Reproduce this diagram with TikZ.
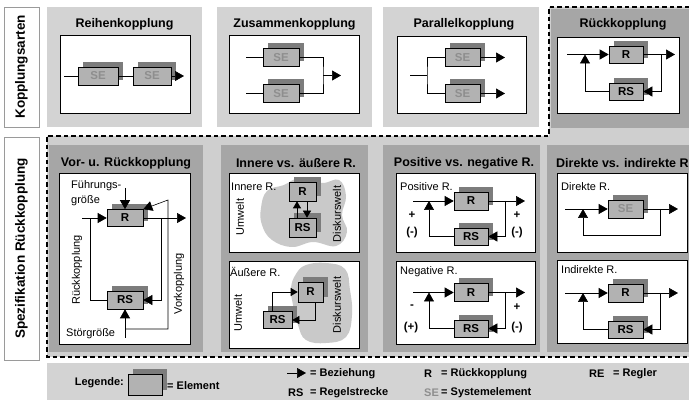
\documentclass[tikz,border=0pt]{standalone}
\usepackage{fontspec}
\setmainfont{Liberation Sans}
\usetikzlibrary{arrows.meta,shadows}

\definecolor{lightpanel}{HTML}{D3D3D3}
\definecolor{darkpanel}{HTML}{A6A6A6}
\definecolor{dotbg}{HTML}{CFCFCF}
\definecolor{elemfill}{HTML}{B2B2B2}
\definecolor{shadowgray}{HTML}{7C7C7C}
\definecolor{cloudgray}{HTML}{C9C9C9}
\definecolor{setext}{HTML}{8E8E8E}
\definecolor{sideedge}{HTML}{9A9A9A}

\newcommand\ttlfont{\fontsize{12.5}{15}\selectfont\bfseries}
\newcommand\sidefont{\fontsize{13.5}{16}\selectfont\bfseries}
\newcommand\lblfont{\fontsize{11}{13}\selectfont}
\newcommand\elemfont{\fontsize{11.5}{13}\selectfont\bfseries}
\newcommand\legfont{\fontsize{11}{13}\selectfont\bfseries}

\begin{document}
\begin{tikzpicture}[x=1pt,y=-1pt,
  conn/.style={draw=black, line width=0.6pt},
  arr/.style={conn, -{Triangle[length=9pt,width=10pt]}},
  arrs/.style={conn, -{Triangle[length=7pt,width=8pt]}},
  elem/.style={draw=black, line width=0.6pt, fill=elemfill,
    minimum width=35pt, minimum height=18pt, inner sep=0pt, font=\elemfont,
    general shadow={fill=shadowgray, shadow xshift=5pt, shadow yshift=5pt}},
  seelem/.style={elem, text=setext},
  innerbox/.style={draw=black, line width=0.6pt, fill=white},
  ttl/.style={font=\ttlfont, inner sep=0pt},
  lbl/.style={font=\lblfont, inner sep=0pt},
  sgn/.style={font=\elemfont, inner sep=0pt},
  leg/.style={font=\legfont, inner sep=0pt, anchor=west},
  sidebox/.style={draw=sideedge, line width=0.8pt, fill=white, rotate=90,
    font=\sidefont, inner sep=0pt},
  dashedge/.style={draw=black, line width=1.1pt, dash pattern=on 4.5pt off 3pt},
  cloud/.style={fill=cloudgray}
]
\useasboundingbox (0,0) rectangle (689,403);
\clip (0,0) rectangle (689,403);
\fill[white] (0,0) rectangle (689,403);

% ---------- side labels ----------
\node[sidebox, minimum width=120pt, minimum height=35pt] (side-top) at (21.5,67) {Kopplungsarten};
\node[sidebox, minimum width=223pt, minimum height=35pt] (side-bot) at (21.5,248.5) {Spezifikation Rückkopplung};

% ---------- feedback region ----------
\fill[dotbg] (549,7) -- (689,7) -- (689,357) -- (47,357) -- (47,136) -- (549,136) -- cycle;
\draw[dashedge] (689,7) -- (549,7) -- (549,136) -- (47,136) -- (47,357) -- (689,357);

% ---------- panels ----------
\fill[lightpanel] (47,7) rectangle (202,127);
\fill[lightpanel] (217,7) rectangle (372,127);
\fill[lightpanel] (383,7) rectangle (539,127);
\fill[darkpanel] (551,9) rectangle (689,128);
\fill[darkpanel] (49,145) rectangle (203,352);
\fill[darkpanel] (221,145) rectangle (368,352);
\fill[darkpanel] (383,145) rectangle (540,352);
\fill[darkpanel] (547,145) rectangle (689,352);

\draw[innerbox] (60,35) rectangle (190,113);
\draw[innerbox] (229,35) rectangle (359,113);
\draw[innerbox] (397,36) rectangle (526,113);
\draw[innerbox] (557,37) rectangle (679,113);
\draw[innerbox] (59,173) rectangle (190,344);
\draw[innerbox] (229,173) rectangle (359,252);
\draw[innerbox] (229,261) rectangle (359,348);
\draw[innerbox] (396,173) rectangle (535,252);
\draw[innerbox] (396,261) rectangle (535,344);
\draw[innerbox] (557,173) rectangle (687,252);
\draw[innerbox] (557,260) rectangle (687,343);

% ---------- titles ----------
\node[ttl] (t-reihe) at (124.5,24) {Reihenkopplung};
\node[ttl] (t-zus) at (294.5,24) {Zusammenkopplung};
\node[ttl] (t-par) at (464,24) {Parallelkopplung};
\node[ttl] (t-rueck) at (623,24) {Rückkopplung};
\node[ttl] (t-vor) at (126,163) {Vor- u. Rückkopplung};
\node[ttl] (t-inn) at (296,163) {Innere vs. äußere R.};
\node[ttl] (t-pos) at (464,163) {Positive vs. negative R.};
\node[ttl, anchor=west] (t-dir) at (556,163) {Direkte vs. indirekte R.};

% ---------- Reihenkopplung ----------
\coordinate (rk-in) at (64,76);
\coordinate (rk-out) at (184,76);
\node[seelem, minimum width=40pt] (rk-se1) at (98,76) {SE};
\node[seelem, minimum width=38pt] (rk-se2) at (152,76) {SE};
\draw[conn] (rk-in) -- (rk-se1);
\draw[conn] (rk-se1) -- (rk-se2);
\draw[arr] (rk-se2) -- (rk-out);

% ---------- Zusammenkopplung ----------
\coordinate (zk-in1) at (246,57.5);
\coordinate (zk-in2) at (246,93.5);
\coordinate (zk-j) at (323,75.5);
\coordinate (zk-out) at (341,75.5);
\node[seelem, minimum width=36pt] (zk-se1) at (281,57.5) {SE};
\node[seelem, minimum width=36pt] (zk-se2) at (281,93.5) {SE};
\draw[conn] (zk-in1) -- (zk-se1);
\draw[conn] (zk-in2) -- (zk-se2);
\draw[conn] (zk-se1) -| (zk-j) |- (zk-se2);
\draw[arr] (zk-j) -- (zk-out);

% ---------- Parallelkopplung ----------
\coordinate (pk-in) at (410,75.5);
\coordinate (pk-j) at (427,75.5);
\coordinate (pk-o1) at (505,57.5);
\coordinate (pk-o2) at (505,93.5);
\node[seelem] (pk-se1) at (462.5,57.5) {SE};
\node[seelem] (pk-se2) at (462.5,93.5) {SE};
\draw[conn] (pk-in) -- (pk-j);
\draw[conn] (pk-se1) -| (pk-j) |- (pk-se2);
\draw[arr] (pk-se1) -- (pk-o1);
\draw[arr] (pk-se2) -- (pk-o2);

% ---------- Rückkopplung ----------
\coordinate (rr-in) at (567,54.5);
\coordinate (rr-j) at (585,54.5);
\coordinate (rr-fb) at (661,54.5);
\coordinate (rr-out) at (675,54.5);
\node[elem, minimum width=34pt, minimum height=17pt] (rr-r) at (626,54.5) {R};
\node[elem, minimum width=34pt, minimum height=17pt] (rr-rs) at (626,91.5) {RS};
\draw[arr] (rr-in) -- (rr-r);
\draw[arr] (rr-r) -- (rr-out);
\draw[arr] (rr-fb) |- (rr-rs);
\draw[arr] (rr-rs) -| (rr-j);

% ---------- Vor- u. Rückkopplung ----------
\node[lbl, anchor=west] (vr-fg1) at (71,186) {Führungs-};
\node[lbl, anchor=west] (vr-fg2) at (71,201) {größe};
\node[lbl, anchor=west] (vr-sg) at (66,334) {Störgröße};
\node[lbl, rotate=90] (vr-rk) at (77,270) {Rückkopplung};
\node[lbl, rotate=90] (vr-vk) at (179,284) {Vorkopplung};
\node[elem, minimum width=36pt, minimum height=17pt] (vr-r) at (125,218) {R};
\node[elem, minimum width=36pt, minimum height=18pt] (vr-rs) at (125,300) {RS};
\coordinate (vr-fgs) at (125,188);
\coordinate (vr-in) at (82,218);
\coordinate (vr-fj) at (90,218);
\coordinate (vr-b) at (161,218);
\coordinate (vr-out) at (186,218);
\coordinate (vr-sgs) at (125,338);
\coordinate (vr-vj) at (125,329);
\coordinate (vr-vt) at (168,200);
\draw[arr] (vr-fgs) -- (vr-r);
\draw[arr] (vr-in) -- (vr-r);
\draw[arr] (vr-r) -- (vr-out);
\draw[arr] (vr-b) |- (vr-rs);
\draw[conn] (vr-rs) -| (vr-fj);
\draw[arr] (vr-sgs) -- (vr-rs);
\draw[arr] (vr-vj) -| (vr-vt) -- (vr-r.north east);

% ---------- Innere R. ----------
\fill[cloud] plot[smooth cycle, tension=0.7] coordinates {
  (261,208) (267,191) (284,185) (300,178) (322,183) (339,180) (346,196)
  (342,215) (347,232) (336,246) (313,242) (292,247) (272,240) (262,225)};
\node[lbl, anchor=west] (ir-lab) at (231,187) {Innere R.};
\node[lbl, rotate=90] (ir-uw) at (240,217) {Umwelt};
\node[lbl, rotate=90] (ir-dw) at (337,214) {Diskurswelt};
\node[elem, minimum width=27pt, minimum height=19pt] (ir-r) at (302.5,191.5) {R};
\node[elem, minimum width=27pt, minimum height=19pt] (ir-rs) at (302.5,227.5) {RS};
\draw[arrs] ([xshift=-5.5pt]ir-rs.north) -- ([xshift=-5.5pt]ir-r.south);
\draw[arrs] ([xshift=4.5pt]ir-r.south) -- ([xshift=4.5pt]ir-rs.north);

% ---------- Äußere R. ----------
\fill[cloud] plot[smooth cycle, tension=0.7] coordinates {
  (296,274) (306,265) (326,263) (345,269) (350,290) (352,315)
  (346,337) (326,343) (306,340) (298,325) (293,305) (291,288)};
\node[lbl, anchor=west] (ar-lab) at (230,272) {Äußere R.};
\node[lbl, rotate=90] (ar-uw) at (238,313) {Umwelt};
\node[lbl, rotate=90] (ar-dw) at (337,305) {Diskurswelt};
\node[elem, minimum width=25pt, minimum height=20pt] (ar-r) at (310.5,292) {R};
\node[elem, minimum width=29pt, minimum height=17pt] (ar-rs) at (277.5,320) {RS};
\draw[arrs] ([xshift=-5pt]ar-rs.north) |- (ar-r);
\draw[arrs] ([xshift=4.5pt]ar-r.south) |- (ar-rs);

% ---------- Positive R. ----------
\node[lbl, anchor=west] (pr-lab) at (400,187) {Positive R.};
\node[elem, minimum width=34pt] (pr-r) at (471,201) {R};
\node[elem, minimum width=34pt, minimum height=17pt] (pr-rs) at (471,236.5) {RS};
\coordinate (pr-in) at (413,201);
\coordinate (pr-j) at (429,201);
\coordinate (pr-fb) at (505,201);
\coordinate (pr-out) at (525,201);
\draw[arr] (pr-in) -- (pr-r);
\draw[arr] (pr-r) -- (pr-out);
\draw[arr] (pr-fb) |- (pr-rs);
\draw[arr] (pr-rs) -| (pr-j);
\node[sgn] (pr-s1) at (412,215) {+};
\node[sgn] (pr-s2) at (412,233) {(-)};
\node[sgn] (pr-s3) at (517,215) {+};
\node[sgn] (pr-s4) at (517,233) {(-)};

% ---------- Negative R. ----------
\node[lbl, anchor=west] (pn-lab) at (400,272) {Negative R.};
\node[elem, minimum width=34pt] (pn-r) at (471,292.5) {R};
\node[elem, minimum width=34pt, minimum height=17pt] (pn-rs) at (471,328.5) {RS};
\coordinate (pn-in) at (413,292.5);
\coordinate (pn-j) at (429,292.5);
\coordinate (pn-fb) at (505,292.5);
\coordinate (pn-out) at (525,292.5);
\draw[arr] (pn-in) -- (pn-r);
\draw[arr] (pn-r) -- (pn-out);
\draw[arr] (pn-fb) |- (pn-rs);
\draw[arr] (pn-rs) -| (pn-j);
\node[sgn] (pn-s1) at (412,307) {-};
\node[sgn] (pn-s2) at (411,328) {(+)};
\node[sgn] (pn-s3) at (517,307) {+};
\node[sgn] (pn-s4) at (517,328) {(-)};

% ---------- Direkte R. ----------
\node[lbl, anchor=west] (de-lab) at (561,187) {Direkte R.};
\node[seelem] (de-se) at (625.5,209) {SE};
\coordinate (de-in) at (565,209);
\coordinate (de-j) at (583,209);
\coordinate (de-fb) at (660,209);
\coordinate (de-lp) at (583,235);
\coordinate (de-out) at (678,209);
\draw[arr] (de-in) -- (de-se);
\draw[arr] (de-se) -- (de-out);
\draw[arr] (de-fb) |- (de-lp) -- (de-j);

% ---------- Indirekte R. ----------
\node[lbl, anchor=west] (di-lab) at (561,270) {Indirekte R.};
\node[elem] (di-r) at (625.5,293) {R};
\node[elem, minimum height=17pt] (di-rs) at (625.5,329.5) {RS};
\coordinate (di-in) at (565,293);
\coordinate (di-j) at (583,293);
\coordinate (di-fb) at (660,293);
\coordinate (di-out) at (678,293);
\draw[arr] (di-in) -- (di-r);
\draw[arr] (di-r) -- (di-out);
\draw[arr] (di-fb) |- (di-rs);
\draw[arr] (di-rs) -| (di-j);

% ---------- legend ----------
\fill[lightpanel] (47,363) rectangle (689,400);
\node[leg, anchor=east] (lg-title) at (124,383) {Legende:};
\node[elem, minimum width=34pt, minimum height=21pt] (lg-el) at (145,385) {};
\node[leg] (lg-elt) at (167,386) {= Element};
\coordinate (lg-a1) at (287,373);
\coordinate (lg-a2) at (306,373);
\draw[arr] (lg-a1) -- (lg-a2);
\node[leg] (lg-bez) at (310,374) {= Beziehung};
\node[leg] (lg-r) at (424,374) {R};
\node[leg] (lg-rt) at (441,374) {= Rückkopplung};
\node[leg] (lg-re) at (589,374) {RE};
\node[leg] (lg-ret) at (613,374) {= Regler};
\node[leg] (lg-rs) at (288,393) {RS};
\node[leg] (lg-rst) at (310,393) {= Regelstrecke};
\node[leg, text=setext] (lg-se) at (424,393) {SE};
\node[leg] (lg-set) at (441,393) {= Systemelement};
\end{tikzpicture}
\end{document}
